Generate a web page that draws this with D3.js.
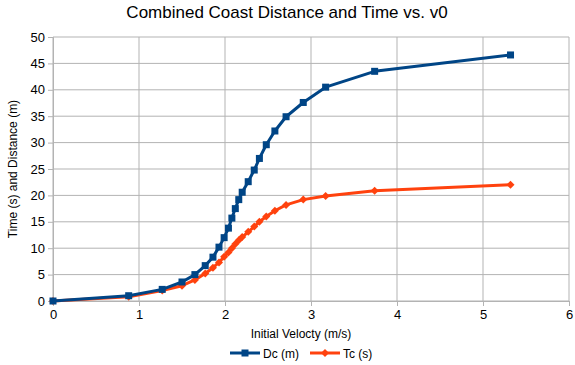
<!DOCTYPE html>
<html>
<head>
<meta charset="utf-8">
<script src="https://cdn.jsdelivr.net/npm/d3@7"></script>
<style>
  body { margin: 0; background: #fff; }
  svg { font-family: "Liberation Sans", Arial, sans-serif; }
</style>
</head>
<body>
<svg id="grafico" width="575" height="365"></svg>
<script>
// velocita iniziale (m/s)
var v0 = [0, 0.88, 1.27, 1.5, 1.65, 1.77, 1.86, 1.93, 1.99, 2.04, 2.08, 2.12, 2.16, 2.20, 2.27, 2.34, 2.40, 2.48, 2.58, 2.71, 2.91, 3.17, 3.74, 5.32];
// distanza di coast (m)
var dc = [0, 1.0, 2.2, 3.6, 5.0, 6.7, 8.3, 10.2, 12.0, 13.8, 15.7, 17.5, 19.2, 20.6, 22.6, 24.8, 27.0, 29.6, 32.2, 34.9, 37.6, 40.5, 43.5, 46.6];
// tempo di coast (s)
var tc = [0, 0.8, 2.0, 2.9, 4.0, 5.2, 6.3, 7.3, 8.4, 9.2, 10.0, 10.8, 11.5, 12.1, 13.1, 14.1, 15.0, 16.0, 17.1, 18.2, 19.2, 19.9, 20.9, 22.0];

var xTicks = [0, 1, 2, 3, 4, 5, 6];
var yTicks = [0, 5, 10, 15, 20, 25, 30, 35, 40, 45, 50];

var serie = [
    { nome: 'Dc (m)', valori: dc, colore: '#004586', marker: 'quadrato' },
    { nome: 'Tc (s)', valori: tc, colore: '#ff420e', marker: 'rombo' }
];

var svg = d3.select('#grafico');

var x = d3.scaleLinear().domain([0, 6]).range([53, 569]);
var y = d3.scaleLinear().domain([0, 50]).range([301, 37]);

//griglia
svg.append('g').selectAll('line.gy').data(yTicks).enter().append('line')
    .attr('x1', 53).attr('x2', 569)
    .attr('y1', function(d) { return y(d); }).attr('y2', function(d) { return y(d); })
    .attr('stroke', '#b3b3b3').attr('stroke-width', 1);

svg.append('g').selectAll('line.gx').data(xTicks).enter().append('line')
    .attr('x1', function(d) { return x(d); }).attr('x2', function(d) { return x(d); })
    .attr('y1', 37).attr('y2', 301)
    .attr('stroke', '#b3b3b3').attr('stroke-width', 1);

//assi
var assey = svg.append('g').attr('transform', 'translate(53,0)')
    .call(d3.axisLeft(y).tickValues(yTicks).tickFormat(d3.format('d')).tickSize(5).tickPadding(3));
var assex = svg.append('g').attr('transform', 'translate(0,301)')
    .call(d3.axisBottom(x).tickValues(xTicks).tickFormat(d3.format('d')).tickSize(5).tickPadding(4));

[assey, assex].forEach(function(a) {
    a.select('.domain').attr('stroke', '#b3b3b3');
    a.selectAll('.tick line').attr('stroke', '#b3b3b3');
    a.selectAll('.tick text').attr('fill', '#000').style('font-size', '13px')
        .style('font-family', '"Liberation Sans", Arial, sans-serif');
});

//titoli
svg.append('text').attr('x', 287).attr('y', 18).attr('text-anchor', 'middle')
    .style('font-size', '17px').text('Combined Coast Distance and Time vs. v0');

svg.append('text').attr('x', 301).attr('y', 338).attr('text-anchor', 'middle')
    .style('font-size', '12px').text('Initial Velocty (m/s)');

svg.append('text').attr('transform', 'translate(17,169) rotate(-90)').attr('text-anchor', 'middle')
    .style('font-size', '12px').text('Time (s) and Distance (m)');

//linee
var linea = d3.line()
    .x(function(d, i) { return x(v0[i]); })
    .y(function(d) { return y(d); });

function disegnaMarker(g, tipo, colore, cx, cy) {
    if(tipo == 'quadrato') {
        g.append('rect').attr('x', cx - 3.5).attr('y', cy - 3.5)
            .attr('width', 7).attr('height', 7).attr('fill', colore);
    }
    else {
        g.append('path')
            .attr('d', 'M' + (cx - 4) + ',' + cy + 'L' + cx + ',' + (cy - 4) + 'L' + (cx + 4) + ',' + cy + 'L' + cx + ',' + (cy + 4) + 'Z')
            .attr('fill', colore);
    }
}

serie.slice().reverse().forEach(function(s) {
    var g = svg.append('g');
    g.append('path').datum(s.valori)
        .attr('d', linea)
        .attr('fill', 'none')
        .attr('stroke', s.colore)
        .attr('stroke-width', 3)
        .attr('stroke-linejoin', 'round');
    s.valori.forEach(function(d, i) {
        disegnaMarker(g, s.marker, s.colore, x(v0[i]), y(d));
    });
});

//legenda
var legX = [230, 310];
serie.forEach(function(s, i) {
    var g = svg.append('g');
    g.append('line').attr('x1', legX[i]).attr('x2', legX[i] + 30)
        .attr('y1', 353).attr('y2', 353)
        .attr('stroke', s.colore).attr('stroke-width', 3);
    disegnaMarker(g, s.marker, s.colore, legX[i] + 15, 353);
    g.append('text').attr('x', legX[i] + 33).attr('y', 357.5)
        .style('font-size', '12px').text(s.nome);
});
</script>
</body>
</html>
